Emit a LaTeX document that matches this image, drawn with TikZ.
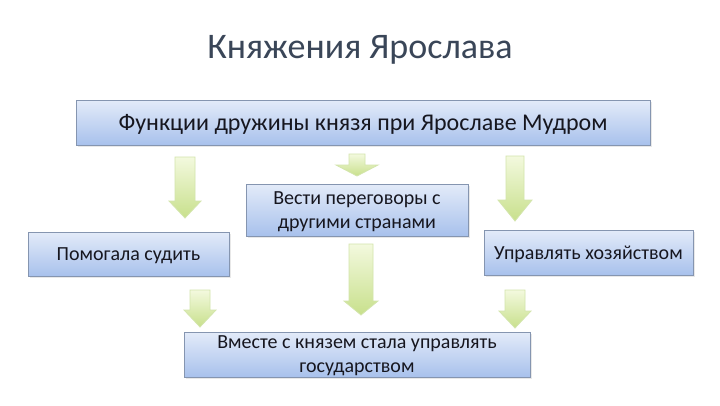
\documentclass[tikz,border=0pt]{standalone}
\usepackage{fontspec}
\setmainfont{Carlito}
\usetikzlibrary{calc,shadows}
\definecolor{boxtop}{HTML}{E3EBF9}
\definecolor{boxbot}{HTML}{A8C1EC}
\definecolor{boxline}{HTML}{8595B0}
\definecolor{txt}{HTML}{16161F}
\definecolor{ttl}{HTML}{3A4658}
\definecolor{arrtop}{HTML}{F3F9DE}
\definecolor{arrbot}{HTML}{C8E08C}
\definecolor{arrline}{HTML}{D3E5AC}
\newcommand\blockarrow[5]{%
  \path[arrowshape] let \p1=(#1), \p2=(#2) in
    (\x1-#3pt,\y1) -- (\x1+#3pt,\y1) -- (\x1+#3pt,\y2+#5pt) -- (\x1+#4pt,\y2+#5pt)
    -- (\x2,\y2) -- (\x1-#4pt,\y2+#5pt) -- (\x1-#3pt,\y2+#5pt) -- cycle;}
\begin{document}
\begin{tikzpicture}[x=1pt,y=-1pt,
  fbox/.style={draw=boxline, line width=0.8pt, top color=boxtop, bottom color=boxbot,
    text=txt, align=center, inner sep=0pt, text depth=0pt,
    drop shadow={opacity=0.18, shadow xshift=1.5pt, shadow yshift=-1.5pt}},
  boxtext/.style={font=\fontsize{20}{24}\selectfont},
  arrowshape/.style={draw=arrline, line width=0.8pt, top color=arrtop, bottom color=arrbot}]
\useasboundingbox[fill=white] (0,0) rectangle (720,405);
\node[text=ttl, font=\fontsize{36}{42}\selectfont] (title) at (360,50) {Княжения Ярослава};
\node[fbox, minimum width=574pt, minimum height=45pt, font=\fontsize{24}{28}\selectfont] (top) at (363,122.5) {Функции дружины князя при Ярославе Мудром};
\node[fbox, boxtext, minimum width=222pt, minimum height=52pt] (mid) at (357,210) {Вести переговоры с\\другими странами};
\node[fbox, boxtext, minimum width=201pt, minimum height=44pt] (left) at (128.5,254) {Помогала судить};
\node[fbox, boxtext, minimum width=209pt, minimum height=45pt] (right) at (588.5,252.5) {Управлять хозяйством};
\node[fbox, boxtext, minimum width=346pt, minimum height=45pt] (bot) at (357,354.5) {Вместе с князем стала управлять\\государством};
\coordinate (a1s) at (185,157); \coordinate (a1e) at (185,218);
\coordinate (a2s) at (357,154); \coordinate (a2e) at (357,176);
\coordinate (a3s) at (515,156); \coordinate (a3e) at (515,221);
\coordinate (a4s) at (200,290); \coordinate (a4e) at (200,327);
\coordinate (a5s) at (361,244); \coordinate (a5e) at (361,315);
\coordinate (a6s) at (515,290); \coordinate (a6e) at (515,328);
\blockarrow{a1s}{a1e}{10}{16}{17}
\blockarrow{a2s}{a2e}{8}{21}{11}
\blockarrow{a3s}{a3e}{9}{17}{21}
\blockarrow{a4s}{a4e}{10}{16}{17}
\blockarrow{a5s}{a5e}{12}{17}{14}
\blockarrow{a6s}{a6e}{10}{16}{17}
\end{tikzpicture}
\end{document}
